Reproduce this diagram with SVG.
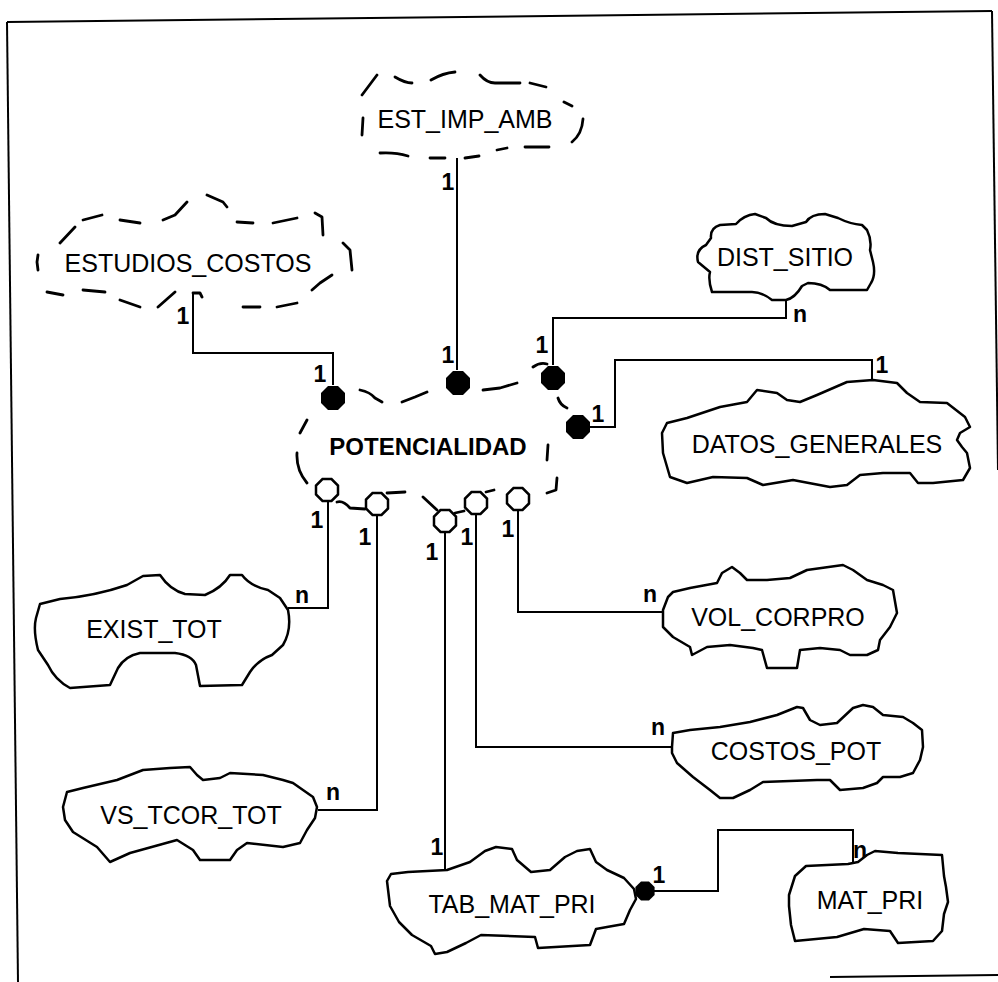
<svg xmlns="http://www.w3.org/2000/svg" xmlns:xlink="http://www.w3.org/1999/xlink" width="998" height="982" viewBox="0 0 998 982">
  <style>
    .frame{fill:none;stroke:#000;stroke-width:2}
    .cloud{fill:#fff;stroke:#000;stroke-width:2.5;stroke-linejoin:round}
    .dash{fill:none;stroke:#000;stroke-width:2.8;stroke-linecap:round;stroke-linejoin:round}
    .conn{fill:none;stroke:#000;stroke-width:2}
    .name{font-family:"Liberation Sans",Arial,sans-serif;font-size:25px;text-anchor:middle;fill:#000}
    .main{font-weight:bold;font-size:24px}
    .lbl{font-family:"Liberation Sans",Arial,sans-serif;font-size:23px;font-weight:bold;text-anchor:middle;fill:#000}
    .open{fill:#fff;stroke:#000;stroke-width:2.5}
  </style>
  <defs>
    <polygon id="dot" points="12,5 5,12 -5,12 -12,5 -12,-5 -5,-12 5,-12 12,-5"/>
    <polygon id="ring" class="open" points="11,4.5 4.5,11 -4.5,11 -11,4.5 -11,-4.5 -4.5,-11 4.5,-11 11,-4.5"/>
  </defs>

  <rect width="998" height="982" fill="#fff"/>

  <!-- page border -->
  <g id="border" class="frame">
    <path d="M7,22 L992,11"/>
    <path d="M7,22 L18,982"/>
    <path d="M992,11 L998,470"/>
    <path d="M830,977 L998,975"/>
  </g>

  <!-- connectors -->
  <g id="connectors" class="conn">
    <path d="M457,158 V370"/>
    <path d="M193,293 V353 H333 V385"/>
    <path d="M786,300 V318 H553 V365"/>
    <path d="M872,380 V360 H615 V427 H590"/>
    <path d="M328,502 V608 H288"/>
    <path d="M377,516 V810 H318"/>
    <path d="M445,533 V872"/>
    <path d="M476,515 V747 H672"/>
    <path d="M518,511 V612 H663"/>
    <path d="M645,891 H718 V830 H853 V864"/>
  </g>

  <!-- cardinality labels -->
  <g id="labels" class="lbl">
    <text x="448" y="190">1</text>
    <text x="448" y="363">1</text>
    <text x="183" y="324">1</text>
    <text x="320" y="382">1</text>
    <text x="542" y="353">1</text>
    <text x="800" y="322">n</text>
    <text x="882" y="373">1</text>
    <text x="598" y="422">1</text>
    <text x="317" y="528">1</text>
    <text x="365" y="545">1</text>
    <text x="432" y="560">1</text>
    <text x="467" y="545">1</text>
    <text x="508" y="537">1</text>
    <text x="302" y="603">n</text>
    <text x="333" y="800">n</text>
    <text x="650" y="602">n</text>
    <text x="658" y="735">n</text>
    <text x="437" y="855">1</text>
    <text x="659" y="883">1</text>
    <text x="860" y="858">n</text>
  </g>

  <!-- optional (dashed) entities -->
  <g id="est_imp_amb">
    <path class="dash" d="M362,95 L377,75 M395,77 Q405,83 412,83 M431,80 Q443,73 455,72 M480,75 Q487,83 495,83 L520,83 M530,83 L546,87 M564,102 L572,106 M583,119 Q582,134 572,142 M549,147 L525,147 M507,148 L497,150 M479,156 L465,158 M445,158 L430,158 M408,156 Q395,152 380,153 M363,118 L362,135"/>
    <text class="name" x="465" y="128">EST_IMP_AMB</text>
  </g>

  <g id="estudios_costos">
    <path class="dash" d="M60,243 L75,227 M83,220 L102,215 M120,220 L140,223 M163,220 L175,215 L187,202 M207,195 L223,202 L227,207 M237,222 L253,223 M273,223 L297,218 M315,213 L322,217 L323,235 M343,243 L350,250 L352,270 M332,275 L320,283 L312,290 M297,303 L277,307 M260,307 L243,307 M193,293 L200,293 L202,297 M175,292 L158,307 M140,307 L120,300 M105,292 L83,290 M63,295 L47,292 M38,255 L37,262 L38,270"/>
    <text class="name" x="188" y="272">ESTUDIOS_COSTOS</text>
  </g>

  <g id="potencialidad">
    <path class="dash" d="M360,390 Q370,392 375,398 L382,402 M402,402 L415,397 L427,392 M483,390 L500,388 L517,383 M533,367 Q540,362 547,364 M558,398 Q560,405 567,408 M307,420 L300,433 M297,453 Q296,470 307,483 M548,445 L547,460 M557,478 L556,490 L547,493 M337,502 Q343,500 350,508 L365,509 M387,493 L405,492 M423,497 L437,510 M455,513 L464,511 M486,492 L494,490"/>
    <text class="name main" x="428" y="455">POTENCIALIDAD</text>
    <use xlink:href="#dot" x="333" y="398"/>
    <use xlink:href="#dot" x="458" y="383"/>
    <use xlink:href="#dot" x="553" y="378"/>
    <use xlink:href="#dot" x="578" y="427"/>
    <use xlink:href="#ring" x="327" y="490"/>
    <use xlink:href="#ring" x="377" y="504"/>
    <use xlink:href="#ring" x="445" y="521"/>
    <use xlink:href="#ring" x="476" y="503"/>
    <use xlink:href="#ring" x="518" y="499"/>
  </g>

  <!-- entities -->
  <g id="dist_sitio">
    <path class="cloud" d="M698,262 Q695,250 706,245 L711,238 Q710,228 720,225 L736,224 Q744,215 755,214 L766,218 Q774,226 792,226 L806,222 Q811,214 825,214 L838,218 Q850,224 862,225 L867,230 Q872,240 870,250 L873,262 Q876,275 871,283 L867,290 L830,290 Q822,283 808,283 L802,286 Q795,298 786,300 L772,300 Q762,292 752,292 L712,292 Q708,280 710,272 Z"/>
    <text class="name" x="785" y="266">DIST_SITIO</text>
  </g>

  <g id="datos_generales">
    <path class="cloud" d="M662,433 L667,423 L687,418 L720,407 L747,402 L757,390 L777,393 L787,400 L800,402 L817,395 L847,382 L873,380 L897,383 L907,393 L920,402 L947,403 L965,417 L970,427 L960,433 L957,440 L962,447 L967,453 L970,468 L963,480 L933,483 L918,483 L910,473 L883,473 L860,475 L847,485 L830,487 L793,480 L763,485 L747,478 L713,477 L687,483 L670,477 L663,453 Z"/>
    <text class="name" x="817" y="453">DATOS_GENERALES</text>
  </g>

  <g id="exist_tot">
    <path class="cloud" d="M40,604 L60,599 Q95,596 127,585 L143,576 L160,575 Q170,590 185,594 L205,595 Q222,588 230,575 L242,575 Q250,586 268,590 L280,598 L288,610 Q292,630 283,645 L272,655 Q258,660 250,672 L242,685 L200,686 L196,665 Q192,655 175,653 L140,653 Q125,656 118,668 L110,685 L70,688 Q55,680 48,665 L38,650 Q33,630 36,618 Z"/>
    <text class="name" x="154" y="638">EXIST_TOT</text>
  </g>

  <g id="vs_tcor_tot">
    <path class="cloud" d="M63,807 L67,792 L83,788 L117,780 L143,770 L170,768 L190,767 L197,775 L203,780 L220,778 L230,773 L263,775 L283,780 L293,783 L313,797 L317,807 L315,818 L307,830 L300,843 L283,847 L247,843 L237,850 L230,860 L200,860 L193,850 L177,840 L130,853 L110,862 L97,847 L73,832 L65,820 Z"/>
    <text class="name" x="191" y="824">VS_TCOR_TOT</text>
  </g>

  <g id="vol_corpro">
    <path class="cloud" d="M663,610 L668,597 L673,592 L690,588 L717,583 L722,573 L732,567 L740,573 L747,580 L767,580 L790,578 L807,570 L843,565 L853,570 L867,580 L883,585 L893,590 L897,613 L890,627 L880,640 L878,650 L867,655 L850,655 L840,650 L820,648 L800,650 L797,668 L767,668 L762,650 L753,648 L730,645 L707,647 L692,655 L690,647 L673,637 L663,627 Z"/>
    <text class="name" x="778" y="626">VOL_CORPRO</text>
  </g>

  <g id="costos_pot">
    <path class="cloud" d="M672,747 L673,733 L690,730 L720,727 L750,722 L777,715 L797,707 L803,708 L810,720 L820,725 L837,723 L853,708 L863,705 L873,707 L883,715 L903,717 L913,723 L922,730 L923,747 L920,760 L913,773 L900,777 L883,777 L877,783 L863,788 L840,790 L830,780 L817,780 L763,782 L750,790 L733,798 L720,798 L710,790 L693,777 L677,763 L672,753 Z"/>
    <text class="name" x="796" y="760">COSTOS_POT</text>
  </g>

  <g id="tab_mat_pri">
    <path class="cloud" d="M387,881 L391,874 L408,872 L447,870 L470,862 L485,851 L496,847 L512,849 L517,860 L531,872 L550,870 L565,857 L577,851 L590,849 L596,862 L607,870 L624,878 L634,889 L636,899 L630,910 L624,924 L607,927 L596,929 L590,945 L538,948 L535,937 L481,935 L466,943 L447,952 L435,954 L431,946 L412,935 L399,922 L390,906 Z"/>
    <text class="name" x="512" y="913">TAB_MAT_PRI</text>
    <use xlink:href="#dot" transform="translate(645,891) scale(0.8)"/>
  </g>

  <g id="mat_pri">
    <path class="cloud" d="M789,895 L795,876 L806,866 L848,864 L858,862 L867,855 L875,851 L898,853 L942,855 L944,876 L946,887 L948,902 L944,914 L942,931 L933,941 L898,943 L890,931 L864,929 L837,937 L795,941 L791,925 L789,906 Z"/>
    <text class="name" x="870" y="909">MAT_PRI</text>
  </g>
</svg>
